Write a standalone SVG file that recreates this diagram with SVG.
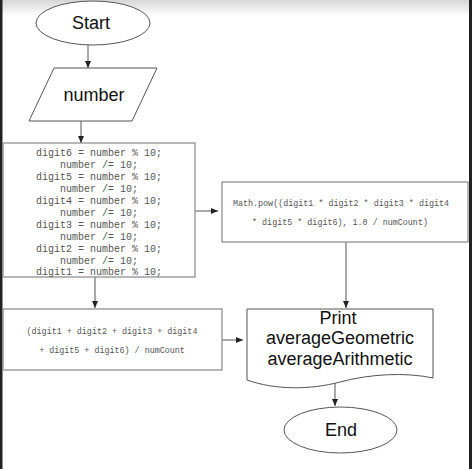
<svg xmlns="http://www.w3.org/2000/svg" width="472" height="469" viewBox="0 0 472 469">
<defs>
<linearGradient id="topg" x1="0" y1="0" x2="0" y2="1">
<stop offset="0" stop-color="#d6d6d6"/>
<stop offset="1" stop-color="#ffffff"/>
</linearGradient>
<marker id="ah" markerWidth="8" markerHeight="8" refX="7" refY="4" orient="auto" markerUnits="userSpaceOnUse">
<path d="M0,1 L7,4 L0,7 Z" fill="#222"/>
</marker>
<style>
.shape{fill:#fff;stroke:#555;stroke-width:1}
.box{fill:#fff;stroke:#888;stroke-width:1.2}
.big{font-family:"Liberation Sans",Arial,sans-serif;font-size:18px;fill:#111;text-anchor:middle}
.code{font-family:"Liberation Mono","DejaVu Sans Mono",monospace;font-size:10px;fill:#555;text-anchor:middle}
.small{font-family:"Liberation Mono","DejaVu Sans Mono",monospace;font-size:8.4px;fill:#555;text-anchor:middle}
.conn{stroke:#555;stroke-width:1;fill:none;marker-end:url(#ah)}
</style>
</defs>
<rect width="472" height="469" fill="#fff"/>
<rect width="472" height="16" fill="url(#topg)"/>
<rect x="0" y="0" width="2.5" height="469" fill="#222"/>
<rect x="469" y="0" width="3" height="469" fill="#222"/>

<g id="connectors">
<line class="conn" x1="88" y1="45" x2="88" y2="68"/>
<line class="conn" x1="81" y1="121" x2="81" y2="143"/>
<line class="conn" x1="195" y1="211" x2="218" y2="211"/>
<line class="conn" x1="95" y1="277" x2="95" y2="308"/>
<line class="conn" x1="346" y1="242" x2="346" y2="308"/>
<line class="conn" x1="222" y1="340" x2="243" y2="340"/>
<line class="conn" x1="335" y1="383" x2="335" y2="406"/>
</g>

<g id="start">
<ellipse class="shape" cx="93" cy="23" rx="57" ry="22"/>
<text class="big" x="91" y="29">Start</text>
</g>

<g id="input">
<polygon class="shape" points="54,68 157,68 132,121 29,121"/>
<text class="big" x="94" y="101">number</text>
</g>

<g id="digits">
<rect class="box" x="3" y="143" width="192" height="134"/>
<text class="code" x="99" y="156">digit6 = number % 10;</text>
<text class="code" x="99" y="168">number /= 10;</text>
<text class="code" x="99" y="180">digit5 = number % 10;</text>
<text class="code" x="99" y="192">number /= 10;</text>
<text class="code" x="99" y="204">digit4 = number % 10;</text>
<text class="code" x="99" y="216">number /= 10;</text>
<text class="code" x="99" y="228">digit3 = number % 10;</text>
<text class="code" x="99" y="240">number /= 10;</text>
<text class="code" x="99" y="252">digit2 = number % 10;</text>
<text class="code" x="99" y="264">number /= 10;</text>
<text class="code" x="99" y="275">digit1 = number % 10;</text>
</g>

<g id="geometric">
<rect class="box" x="222" y="182" width="246" height="60"/>
<text class="small" x="341" y="206">Math.pow((digit1 * digit2 * digit3 * digit4</text>
<text class="small" x="340" y="225">* digit5 * digit6), 1.0 / numCount)</text>
</g>

<g id="arithmetic">
<rect class="box" x="3" y="309" width="219" height="61"/>
<text class="small" x="112" y="334">(digit1 + digit2 + digit3 + digit4</text>
<text class="small" x="112" y="353">+ digit5 + digit6) / numCount</text>
</g>

<g id="print">
<path class="shape" d="M247,309 L433,309 L433,378 C405,372 370,374 340,382 C310,390 275,390 247,380 Z"/>
<text class="big" x="338" y="324">Print</text>
<text class="big" x="340" y="344">averageGeometric</text>
<text class="big" x="340" y="365">averageArithmetic</text>
</g>

<g id="end">
<ellipse class="shape" cx="340.5" cy="430" rx="56.5" ry="23"/>
<text class="big" x="341" y="436">End</text>
</g>
</svg>
